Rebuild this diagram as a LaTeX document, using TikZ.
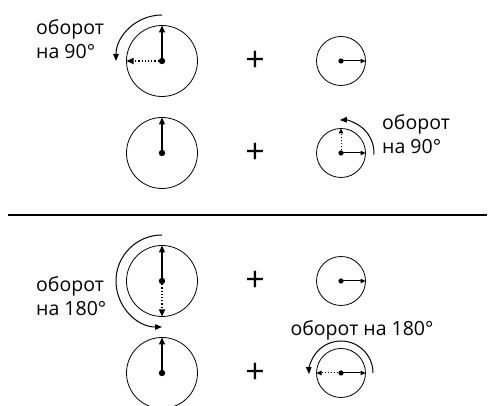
\documentclass[tikz,border=0pt]{standalone}
\usepackage{fontspec}
\setmainfont{Open Sans}
\usetikzlibrary{arrows.meta}
\tikzset{
  big/.style={circle,draw,line width=0.8pt,inner sep=0pt,outer sep=0pt,minimum size=71pt},
  small/.style={circle,draw,line width=0.8pt,inner sep=0pt,outer sep=0pt,minimum size=49pt},
  vec/.style={line width=1.2pt,-{Triangle[length=7pt,width=6pt]}},
  svec/.style={line width=1pt,-{Triangle[length=5pt,width=4.5pt]}},
  turn/.style={line width=1pt,-{Triangle[length=7pt,width=5.5pt]}},
  lbl/.style={font=\fontsize{19.5}{24}\selectfont,align=left,inner sep=0pt},
  plus/.style={font=\fontsize{34}{34}\selectfont,inner sep=0pt}
}

\begin{document}
\begin{tikzpicture}[x=1pt,y=1pt]
\useasboundingbox (0,0) rectangle (488,406);
    \foreach \n/\y in {1/345,2/253,3/125,4/33} {
      \node[big] (a\n) at (162,\y) {};
      \node[small] (b\n) at (341,\y) {};
      \node[plus] (p\n) at (255,\y) {+};
      \draw[vec] (a\n.center) -- (a\n.north);
      \draw[svec] (b\n.center) -- (b\n.east);
}
    \draw[vec,dotted] (a1.center) -- (a1.west);
    \draw[svec,dotted] (b2.center) -- (b2.north);
    \draw[vec,dotted] (a3.center) -- (a3.south);
    \draw[svec,dotted] (b4.center) -- (b4.west);
\foreach \n in {1,2,3,4} {
  \fill (a\n) circle (3.2);
  \fill (b\n) circle (2.6);
}
    % turns
    \draw[turn] ([shift={(90:46)}]a1.center) arc[start angle=90,end angle=180,radius=46];
    \draw[turn] ([shift={(-3:33)}]b2.center) arc[start angle=-3,end angle=92,radius=33];
    \draw[turn] ([shift={(90:46)}]a3.center) arc[start angle=90,end angle=270,radius=46];
    \draw[turn] ([shift={(0:32)}]b4.center) arc[start angle=0,end angle=182,radius=32];
    \draw[line width=1.2pt] (8,191) -- (487,191);
    \node[lbl,anchor=west] (t1) at (36,367) {оборот\\на 90°};
    \node[lbl,anchor=west] (t2) at (382,272) {оборот\\на 90°};
    \node[lbl,anchor=west] (t3) at (36,110) {оборот\\на 180°};
    \node[lbl] (t4) at (362,76) {оборот на 180°};
\end{tikzpicture}
\end{document}
